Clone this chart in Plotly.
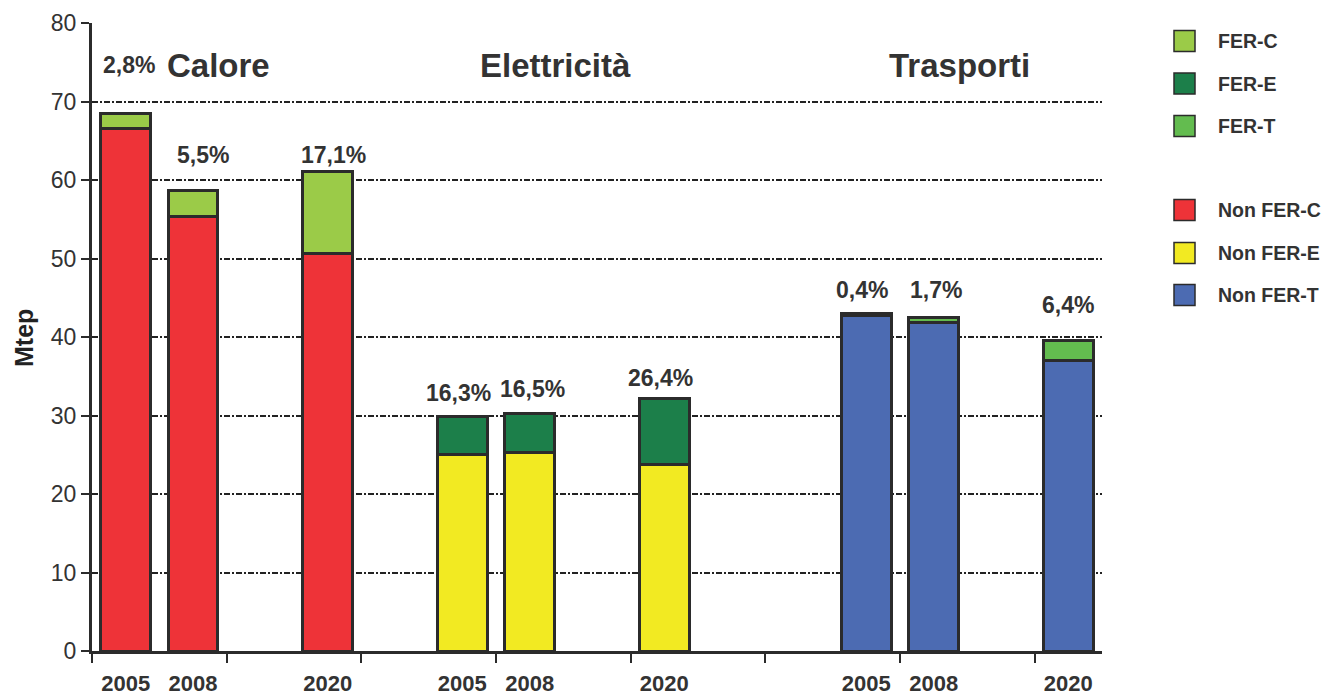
import plotly.graph_objects as go

# ---------------- data ----------------
groups = ["Calore", "Elettricità", "Trasporti"]
years = ["2005", "2008", "2020"]

non_fer_c = [66.6, 55.4, 50.7]
fer_c = [1.9, 3.2, 10.4]
non_fer_e = [25.0, 25.3, 23.7]
fer_e = [4.9, 5.0, 8.5]
non_fer_t = [42.8, 41.8, 37.0]
fer_t = [0.2, 0.7, 2.5]

share_c = ["2,8%", "5,5%", "17,1%"]
share_e = ["16,3%", "16,5%", "26,4%"]
share_t = ["0,4%", "1,7%", "6,4%"]

series_names = ["FER-C", "FER-E", "FER-T", "Non FER-C", "Non FER-E", "Non FER-T"]
y_ticks = [0, 10, 20, 30, 40, 50, 60, 70, 80]

# ---------------- layout / style ----------------
colors = {
    "FER-C": "#9BCB48",
    "FER-E": "#1C7F4A",
    "FER-T": "#63BC4F",
    "Non FER-C": "#EE3338",
    "Non FER-E": "#F2EA22",
    "Non FER-T": "#4C6BB2",
}
outline = "#2b2b2b"
text_col = "#333333"
font_family = "Liberation Sans, Arial, sans-serif"

group_start = [0, 5, 11]
year_offset = [0, 1, 3]
bar_width = 0.74

def xs(g):
    return [group_start[g] + o for o in year_offset]

# label vertical positions (data units) and horizontal nudges (slot units)
label_y_c = [74.6, 63.2, 63.2]
label_y_e = [32.9, 33.4, 34.8]
label_y_t = [46.0, 46.0, 44.1]
label_dx_c = [0.05, 0.15, 0.08]
label_dx_e = [-0.05, 0.04, -0.06]
label_dx_t = [-0.06, 0.03, 0.0]

W, H = 1323, 696
ml, mr, mt, mb = 92, 221, 23, 45
pw, ph = W - ml - mr, H - mt - mb

def px_x(p):
    return (p - ml) / pw

def px_y(p):
    return (H - mb - p) / ph

fig = go.Figure()

non_fer_sets = [("Non FER-C", non_fer_c), ("Non FER-E", non_fer_e), ("Non FER-T", non_fer_t)]
fer_sets = [("FER-C", fer_c), ("FER-E", fer_e), ("FER-T", fer_t)]

for g, (name, vals) in enumerate(non_fer_sets):
    fig.add_bar(x=xs(g), y=vals, name=name, width=bar_width,
                marker=dict(color=colors[name], line=dict(color=outline, width=3)),
                showlegend=False)
for g, (name, vals) in enumerate(fer_sets):
    fig.add_bar(x=xs(g), y=vals, name=name, width=bar_width,
                marker=dict(color=colors[name], line=dict(color=outline, width=3)),
                showlegend=False)

annotations = []
# group titles
for g, name in enumerate(groups):
    annotations.append(dict(x=group_start[g] + 1.38, y=74.6, xref="x", yref="y",
                            text="<b>" + name + "</b>", showarrow=False,
                            xanchor="center", yanchor="middle",
                            font=dict(family=font_family, size=33, color=text_col)))
# share labels
for g, (labels, ly, dx) in enumerate([(share_c, label_y_c, label_dx_c),
                                       (share_e, label_y_e, label_dx_e),
                                       (share_t, label_y_t, label_dx_t)]):
    for i, lab in enumerate(labels):
        annotations.append(dict(x=xs(g)[i] + dx[i], y=ly[i], xref="x", yref="y",
                                text="<b>" + lab + "</b>", showarrow=False,
                                xanchor="center", yanchor="middle",
                                font=dict(family=font_family, size=23, color=text_col)))

# y-axis title
annotations.append(dict(x=px_x(24), y=px_y(338), xref="paper", yref="paper",
                        text="<b>Mtep</b>", showarrow=False, textangle=-90,
                        xanchor="center", yanchor="middle",
                        font=dict(family=font_family, size=25, color="#222222")))

# manual legend
legend_rows_px = [41, 83.5, 126, 210, 253, 295]
shapes = []
for name, cy in zip(series_names, legend_rows_px):
    shapes.append(dict(type="rect", xref="paper", yref="paper",
                       x0=px_x(1174), x1=px_x(1195), y0=px_y(cy + 10.5), y1=px_y(cy - 10.5),
                       fillcolor=colors[name], line=dict(color=outline, width=1.5)))
    annotations.append(dict(x=px_x(1216), y=px_y(cy), xref="paper", yref="paper",
                            text="<b>" + name + "</b>", showarrow=False,
                            xanchor="left", yanchor="middle",
                            font=dict(family=font_family, size=19.5, color=text_col)))

all_x = xs(0) + xs(1) + xs(2)
fig.update_layout(
    width=W, height=H,
    margin=dict(l=ml, r=mr, t=mt, b=mb, autoexpand=False),
    barmode="stack",
    plot_bgcolor="white", paper_bgcolor="white",
    annotations=annotations, shapes=shapes,
    font=dict(family=font_family, color=text_col),
    xaxis=dict(
        range=[-0.5, 14.5],
        tickmode="array", tickvals=all_x, ticktext=["<b>" + y + "</b>" for y in years * 3],
        ticks="", showgrid=False, zeroline=False, automargin=False,
        showline=True, linecolor=outline, linewidth=3,
        tickfont=dict(family=font_family, size=22, color=text_col),
        ticklabelstandoff=11,
        minor=dict(tickmode="array", tickvals=[-0.5, 1.5, 3.5, 5.5, 7.5, 9.5, 11.5, 13.5],
                   ticks="outside", ticklen=9, tickwidth=2, tickcolor=outline, showgrid=False),
    ),
    yaxis=dict(
        range=[0, 80], automargin=False,
        tickmode="array", tickvals=y_ticks,
        ticks="outside", ticklen=8, tickwidth=2, tickcolor=outline,
        showline=True, linecolor=outline, linewidth=3,
        showgrid=True, gridcolor="#222222", gridwidth=1.6, griddash="6px,2px,2px,2px",
        zeroline=False,
        tickfont=dict(family=font_family, size=23, color=text_col),
    ),
)

fig.write_html("out.html")
